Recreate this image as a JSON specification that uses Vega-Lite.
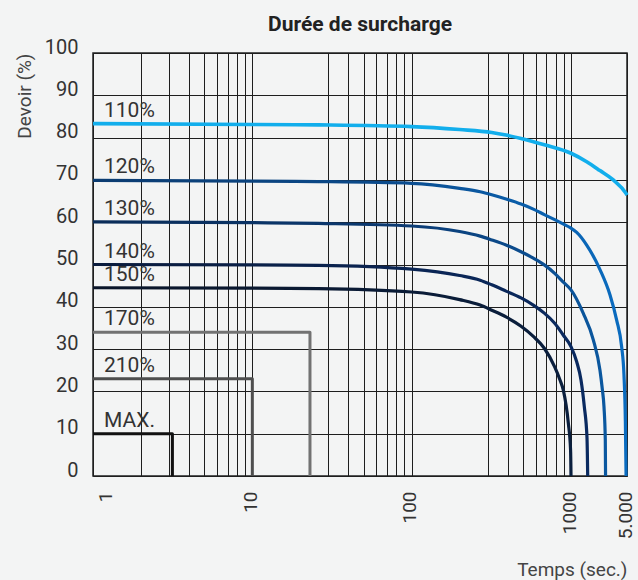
{
  "$schema": "https://vega.github.io/schema/vega-lite/v6.json",
  "width": 534,
  "height": 423,
  "autosize": {"type": "none"},
  "padding": {"left": 93, "top": 53, "right": 11, "bottom": 104},
  "background": "#f3f4f4",
  "title": {
    "text": "Durée de surcharge",
    "anchor": "middle",
    "font": "Roboto",
    "fontSize": 21,
    "fontWeight": "bold",
    "color": "#222222",
    "offset": 2
  },
  "config": {
    "view": {"stroke": "#222222", "strokeWidth": 1.5},
    "axis": {
      "labelFont": "Roboto",
      "titleFont": "Roboto",
      "labelColor": "#333333",
      "titleColor": "#444444",
      "titleFontWeight": "normal",
      "ticks": false,
      "domain": false,
      "grid": true,
      "gridColor": "#1e1e1e",
      "gridWidth": 1,
      "gridOpacity": 1
    }
  },
  "data": {
    "values": [
      {"series": "110%", "t": 1, "duty": 83.3},
      {"series": "110%", "t": 10, "duty": 83.1},
      {"series": "110%", "t": 26, "duty": 83.0},
      {"series": "110%", "t": 100, "duty": 82.6},
      {"series": "110%", "t": 200, "duty": 81.9},
      {"series": "110%", "t": 318, "duty": 81.2},
      {"series": "110%", "t": 391, "duty": 80.6},
      {"series": "110%", "t": 486, "duty": 79.8},
      {"series": "110%", "t": 680, "duty": 78.3},
      {"series": "110%", "t": 1000, "duty": 76.3},
      {"series": "110%", "t": 1570, "duty": 74.3},
      {"series": "110%", "t": 2300, "duty": 72.2},
      {"series": "110%", "t": 3370, "duty": 70.0},
      {"series": "110%", "t": 4860, "duty": 66.8},
      {"series": "110%", "t": 5000, "duty": 66.4},

      {"series": "120%", "t": 1, "duty": 69.9},
      {"series": "120%", "t": 10, "duty": 69.7},
      {"series": "120%", "t": 26, "duty": 69.6},
      {"series": "120%", "t": 100, "duty": 69.2},
      {"series": "120%", "t": 200, "duty": 68.0},
      {"series": "120%", "t": 269, "duty": 67.2},
      {"series": "120%", "t": 318, "duty": 66.5},
      {"series": "120%", "t": 391, "duty": 65.5},
      {"series": "120%", "t": 486, "duty": 64.3},
      {"series": "120%", "t": 580, "duty": 63.1},
      {"series": "120%", "t": 680, "duty": 61.8},
      {"series": "120%", "t": 790, "duty": 60.6},
      {"series": "120%", "t": 891, "duty": 59.6},
      {"series": "120%", "t": 1000, "duty": 58.6},
      {"series": "120%", "t": 1178, "duty": 57.6},
      {"series": "120%", "t": 1570, "duty": 54.6},
      {"series": "120%", "t": 2300, "duty": 48.8},
      {"series": "120%", "t": 3070, "duty": 42.8},
      {"series": "120%", "t": 3720, "duty": 36.8},
      {"series": "120%", "t": 4290, "duty": 30.5},
      {"series": "120%", "t": 4580, "duty": 24.0},
      {"series": "120%", "t": 4770, "duty": 13.0},
      {"series": "120%", "t": 4870, "duty": 0},

      {"series": "130%", "t": 1, "duty": 60.1},
      {"series": "130%", "t": 10, "duty": 59.9},
      {"series": "130%", "t": 26, "duty": 59.7},
      {"series": "130%", "t": 100, "duty": 59.1},
      {"series": "130%", "t": 200, "duty": 57.8},
      {"series": "130%", "t": 269, "duty": 56.7},
      {"series": "130%", "t": 318, "duty": 55.8},
      {"series": "130%", "t": 391, "duty": 54.6},
      {"series": "130%", "t": 486, "duty": 53.0},
      {"series": "130%", "t": 580, "duty": 51.5},
      {"series": "130%", "t": 680, "duty": 49.9},
      {"series": "130%", "t": 790, "duty": 47.9},
      {"series": "130%", "t": 891, "duty": 45.9},
      {"series": "130%", "t": 1000, "duty": 44.0},
      {"series": "130%", "t": 1420, "duty": 38.5},
      {"series": "130%", "t": 1898, "duty": 32.2},
      {"series": "130%", "t": 2300, "duty": 25.0},
      {"series": "130%", "t": 2460, "duty": 20.5},
      {"series": "130%", "t": 2580, "duty": 16.4},
      {"series": "130%", "t": 2680, "duty": 8.5},
      {"series": "130%", "t": 2700, "duty": 0},

      {"series": "140%", "t": 1, "duty": 50.0},
      {"series": "140%", "t": 10, "duty": 49.9},
      {"series": "140%", "t": 26, "duty": 49.8},
      {"series": "140%", "t": 100, "duty": 48.9},
      {"series": "140%", "t": 200, "duty": 47.4},
      {"series": "140%", "t": 269, "duty": 46.3},
      {"series": "140%", "t": 318, "duty": 45.2},
      {"series": "140%", "t": 391, "duty": 43.7},
      {"series": "140%", "t": 486, "duty": 42.1},
      {"series": "140%", "t": 580, "duty": 40.4},
      {"series": "140%", "t": 680, "duty": 38.5},
      {"series": "140%", "t": 790, "duty": 36.1},
      {"series": "140%", "t": 891, "duty": 33.4},
      {"series": "140%", "t": 1000, "duty": 30.6},
      {"series": "140%", "t": 1178, "duty": 27.0},
      {"series": "140%", "t": 1333, "duty": 22.7},
      {"series": "140%", "t": 1466, "duty": 16.4},
      {"series": "140%", "t": 1584, "duty": 9.0},
      {"series": "140%", "t": 1616, "duty": 0},

      {"series": "150%", "t": 1, "duty": 44.5},
      {"series": "150%", "t": 10, "duty": 44.4},
      {"series": "150%", "t": 26, "duty": 44.3},
      {"series": "150%", "t": 100, "duty": 43.5},
      {"series": "150%", "t": 200, "duty": 41.7},
      {"series": "150%", "t": 269, "duty": 40.4},
      {"series": "150%", "t": 318, "duty": 39.2},
      {"series": "150%", "t": 391, "duty": 37.6},
      {"series": "150%", "t": 486, "duty": 35.4},
      {"series": "150%", "t": 580, "duty": 33.0},
      {"series": "150%", "t": 680, "duty": 30.2},
      {"series": "150%", "t": 790, "duty": 25.8},
      {"series": "150%", "t": 853, "duty": 22.7},
      {"series": "150%", "t": 895, "duty": 20.3},
      {"series": "150%", "t": 962, "duty": 12.5},
      {"series": "150%", "t": 994, "duty": 6.1},
      {"series": "150%", "t": 1000, "duty": 0},

      {"series": "170%", "t": 1, "duty": 34},
      {"series": "170%", "t": 23, "duty": 34},
      {"series": "170%", "t": 23, "duty": 0},

      {"series": "210%", "t": 1, "duty": 23},
      {"series": "210%", "t": 10, "duty": 23},
      {"series": "210%", "t": 10, "duty": 0},

      {"series": "MAX.", "t": 1, "duty": 10},
      {"series": "MAX.", "t": 3.15, "duty": 10},
      {"series": "MAX.", "t": 3.15, "duty": 0}
    ]
  },
  "encoding": {
    "x": {
      "field": "t",
      "type": "quantitative",
      "scale": {"type": "log", "domain": [1, 1000, 5000], "range": [0, 478, 534], "nice": false},
      "axis": {
        "title": "Temps (sec.)",
        "values": [1, 2, 3, 4, 5, 6, 7, 8, 9, 10, 30, 40, 50, 60, 70, 80, 90, 100, 300, 400, 500, 600, 700, 800, 900, 1000, 5000],
        "labelExpr": "datum.value == 5000 ? '5.000' : (indexof([1, 10, 100, 1000], datum.value) >= 0 ? format(datum.value, 'd') : '')",
        "labelAngle": -90,
        "labelFontSize": 19,
        "labelPadding": 15,
        "labelOverlap": false,
        "labelBound": false,
        "labelFlush": false,
        "labelOffset": {"condition": {"test": "datum.value == 1", "value": 12}, "value": -2},
        "titleAnchor": "end",
        "titleAlign": "right",
        "titleFontSize": 19,
        "titlePadding": 22
      }
    },
    "y": {
      "field": "duty",
      "type": "quantitative",
      "scale": {"domain": [0, 100], "nice": false},
      "axis": {
        "title": "Devoir (%)",
        "values": [0, 10, 20, 30, 40, 50, 60, 70, 80, 90, 100],
        "labelFontSize": 20,
        "labelPadding": 15,
        "labelOffset": -6,
        "titleAnchor": "end",
        "titleFontSize": 19,
        "titlePadding": 10
      }
    }
  },
  "layer": [
    {
      "transform": [{"filter": "indexof(['170%', '210%', 'MAX.'], datum.series) >= 0"}],
      "mark": {"type": "line", "strokeWidth": 3, "strokeJoin": "round"},
      "encoding": {
        "color": {
          "field": "series",
          "type": "nominal",
          "scale": {"domain": ["170%", "210%", "MAX."], "range": ["#727272", "#4e4e4e", "#111111"]},
          "legend": null
        },
        "order": {"value": null}
      }
    },
    {
      "transform": [{"filter": "datum.series == '150%'"}],
      "mark": {
        "type": "line", "interpolate": "monotone", "strokeWidth": 3.2,
        "color": {"gradient": "linear", "x1": 0, "y1": 0, "x2": 1, "y2": 0,
          "stops": [{"offset": 0, "color": "#0a1529"}, {"offset": 1, "color": "#0a1f3e"}]}
      }
    },
    {
      "transform": [{"filter": "datum.series == '140%'"}],
      "mark": {
        "type": "line", "interpolate": "monotone", "strokeWidth": 3.2,
        "color": {"gradient": "linear", "x1": 0, "y1": 0, "x2": 1, "y2": 0,
          "stops": [{"offset": 0, "color": "#0a1b3c"}, {"offset": 1, "color": "#0a2a60"}]}
      }
    },
    {
      "transform": [{"filter": "datum.series == '130%'"}],
      "mark": {
        "type": "line", "interpolate": "monotone", "strokeWidth": 3.2,
        "color": {"gradient": "linear", "x1": 0, "y1": 0, "x2": 1, "y2": 0,
          "stops": [{"offset": 0, "color": "#0a2c58"}, {"offset": 0.6, "color": "#0b3a72"}, {"offset": 1, "color": "#0b58a0"}]}
      }
    },
    {
      "transform": [{"filter": "datum.series == '120%'"}],
      "mark": {
        "type": "line", "interpolate": "monotone", "strokeWidth": 3.2,
        "color": {"gradient": "linear", "x1": 0, "y1": 0, "x2": 1, "y2": 0,
          "stops": [{"offset": 0, "color": "#0b3b70"}, {"offset": 0.55, "color": "#0b4b8c"}, {"offset": 1, "color": "#0a6cc0"}]}
      }
    },
    {
      "transform": [{"filter": "datum.series == '110%'"}],
      "mark": {"type": "line", "interpolate": "monotone", "strokeWidth": 3.6, "color": "#12aeec"}
    },
    {
      "transform": [{"filter": "datum.t == 1"}],
      "mark": {
        "type": "text", "align": "left", "baseline": "alphabetic",
        "dx": 11, "dy": -7, "font": "Roboto", "fontSize": 21, "color": "#333333"
      },
      "encoding": {"text": {"field": "series", "type": "nominal"}}
    }
  ]
}
